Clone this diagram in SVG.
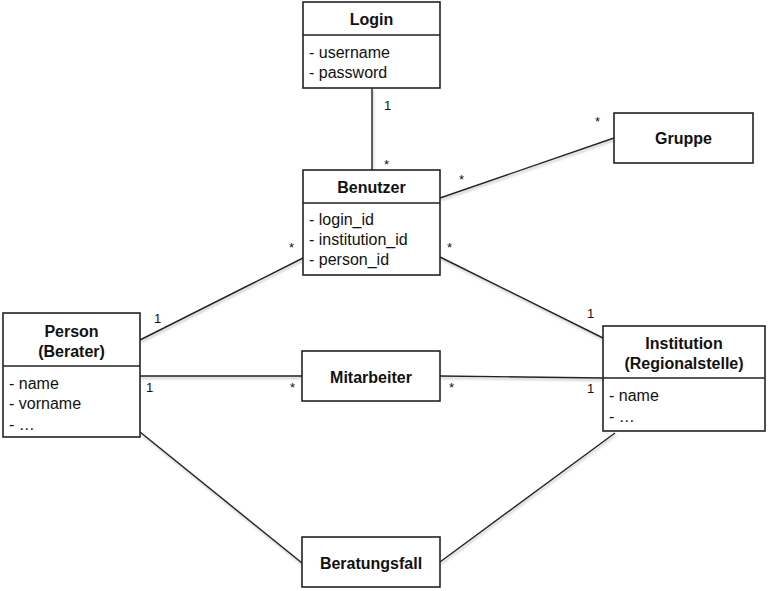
<svg xmlns="http://www.w3.org/2000/svg" width="768" height="591" viewBox="0 0 768 591">
<style>
.box{fill:#fff;stroke:#222;stroke-width:1.6}
.div{stroke:#222;stroke-width:1.6}
.t{font-family:"Liberation Sans",Arial,sans-serif;font-size:16px;font-weight:bold;fill:#111;text-anchor:middle}
.a{font-family:"Liberation Sans",Arial,sans-serif;font-size:16px;fill:#111}
.m{font-family:"Liberation Sans",Arial,sans-serif;font-size:13px;fill:#111}
.c{stroke:#222;stroke-width:1.4;fill:none}
</style>
<defs>
<filter id="sh" x="-10%" y="-10%" width="120%" height="120%">
<feDropShadow dx="1" dy="2" stdDeviation="1.2" flood-color="#000" flood-opacity="0.25"/>
</filter>
</defs>
<rect width="768" height="591" fill="#fff"/>
<g id="connectors" filter="url(#sh)">
<line class="c" x1="372" y1="88" x2="372" y2="170"/>
<line class="c" x1="440" y1="198" x2="614" y2="138"/>
<line class="c" x1="440" y1="257" x2="603" y2="338"/>
<line class="c" x1="140" y1="340" x2="303" y2="258"/>
<line class="c" x1="140" y1="376" x2="302" y2="376"/>
<line class="c" x1="440" y1="376" x2="603" y2="378"/>
<line class="c" x1="140" y1="432" x2="302" y2="563"/>
<line class="c" x1="615" y1="433" x2="440" y2="562"/>
</g>
<g id="labels">
<text class="m" x="384" y="110">1</text>
<text class="m" x="384" y="169">*</text>
<text class="m" x="459" y="184">*</text>
<text class="m" x="595" y="126">*</text>
<text class="m" x="447" y="252">*</text>
<text class="m" x="587" y="318">1</text>
<text class="m" x="154" y="323">1</text>
<text class="m" x="289" y="252">*</text>
<text class="m" x="146" y="392">1</text>
<text class="m" x="290" y="392">*</text>
<text class="m" x="449" y="392">*</text>
<text class="m" x="587" y="393">1</text>
</g>
<g id="login">
<rect class="box" x="303" y="2" width="137" height="86"/>
<line class="div" x1="303" y1="35" x2="440" y2="35"/>
<text class="t" x="371.5" y="25">Login</text>
<text class="a" x="309" y="58">- username</text>
<text class="a" x="309" y="78">- password</text>
</g>
<g id="benutzer">
<rect class="box" x="303" y="170" width="137" height="105"/>
<line class="div" x1="303" y1="203" x2="440" y2="203"/>
<text class="t" x="371.5" y="193">Benutzer</text>
<text class="a" x="309" y="225">- login_id</text>
<text class="a" x="309" y="245">- institution_id</text>
<text class="a" x="309" y="265">- person_id</text>
</g>
<g id="gruppe">
<rect class="box" x="614" y="113" width="139" height="50"/>
<text class="t" x="683.5" y="144">Gruppe</text>
</g>
<g id="person">
<rect class="box" x="3" y="313" width="137" height="124"/>
<line class="div" x1="3" y1="366" x2="140" y2="366"/>
<text class="t" x="71.5" y="337">Person</text>
<text class="t" x="71.5" y="357">(Berater)</text>
<text class="a" x="9" y="389">- name</text>
<text class="a" x="9" y="409">- vorname</text>
<text class="a" x="9" y="430">- …</text>
</g>
<g id="mitarbeiter">
<rect class="box" x="302" y="351" width="138" height="50"/>
<text class="t" x="371" y="383">Mitarbeiter</text>
</g>
<g id="institution">
<rect class="box" x="603" y="326" width="162" height="105"/>
<line class="div" x1="603" y1="378" x2="765" y2="378"/>
<text class="t" x="684" y="349">Institution</text>
<text class="t" x="684" y="369">(Regionalstelle)</text>
<text class="a" x="609" y="401">- name</text>
<text class="a" x="609" y="422">- …</text>
</g>
<g id="beratungsfall">
<rect class="box" x="302" y="537" width="138" height="50"/>
<text class="t" x="371" y="569">Beratungsfall</text>
</g>
</svg>
